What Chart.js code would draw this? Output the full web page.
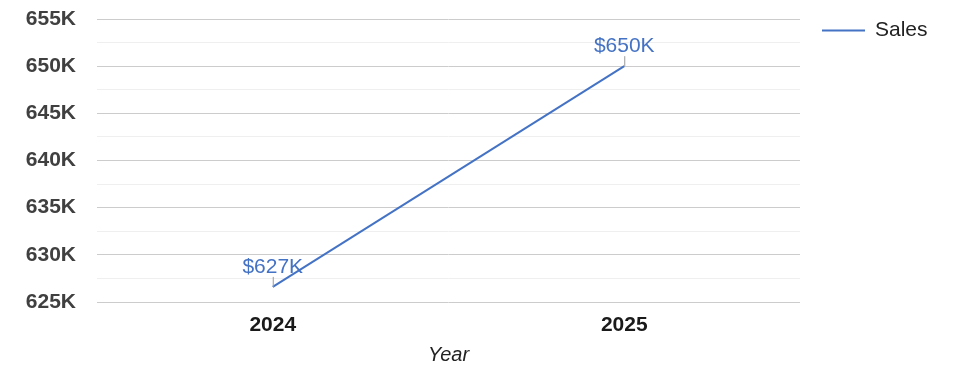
<!DOCTYPE html>
<html>
<head>
<meta charset="utf-8">
<script src="https://cdn.jsdelivr.net/npm/chart.js@4.4.1/dist/chart.umd.min.js"></script>
<style>
  html, body { margin: 0; padding: 0; background: #ffffff; }
  #wrap { width: 975px; height: 378px; position: relative; }
</style>
</head>
<body>
<div id="wrap"><canvas id="salesChart"></canvas></div>
<script>
// Chart data
const years = ['2024', '2025'];
const salesValues = [626600, 650000];
const seriesName = 'Sales';
const axisTitle = 'Year';

const lineColor = '#4472C4';
const FONT = '"Liberation Sans", Arial, sans-serif';

// Short label for the y ticks, e.g. 645K
function kLabel(v) {
    return Math.round(v / 1000) + 'K';
}

// Draws the "$627K" style labels with the small leader line above each point
const pointLabels = {
    id: 'pointLabels',
    afterDatasetsDraw(chart) {
        const ctx = chart.ctx;
        const meta = chart.getDatasetMeta(0);
        ctx.save();
        meta.data.forEach((pt, i) => {
            // leader line
            ctx.strokeStyle = '#9a9a9a';
            ctx.lineWidth = 1;
            ctx.beginPath();
            ctx.moveTo(pt.x + 0.5, pt.y);
            ctx.lineTo(pt.x + 0.5, pt.y - 10);
            ctx.stroke();
            // value text
            ctx.fillStyle = lineColor;
            ctx.font = '21px ' + FONT;
            ctx.textAlign = 'center';
            ctx.textBaseline = 'alphabetic';
            ctx.fillText('$' + kLabel(salesValues[i]), pt.x, pt.y - 14);
        });
        ctx.restore();
    }
};

// Simple legend on the right side of the plot
const sideLegend = {
    id: 'sideLegend',
    afterDraw(chart) {
        const ctx = chart.ctx;
        const area = chart.chartArea;
        const y = area.top + 11.5;
        ctx.save();
        ctx.strokeStyle = lineColor;
        ctx.lineWidth = 2;
        ctx.beginPath();
        ctx.moveTo(area.right + 22, y);
        ctx.lineTo(area.right + 65, y);
        ctx.stroke();
        ctx.fillStyle = '#222222';
        ctx.font = '21px ' + FONT;
        ctx.textAlign = 'left';
        ctx.textBaseline = 'middle';
        ctx.fillText(seriesName, area.right + 75, y);
        ctx.restore();
    }
};

const ctx = document.getElementById('salesChart');

new Chart(ctx, {
    type: 'line',
    data: {
        labels: years,
        datasets: [{
            label: seriesName,
            data: salesValues,
            borderColor: lineColor,
            backgroundColor: lineColor,
            borderWidth: 2,
            pointRadius: 0,
            tension: 0
        }]
    },
    options: {
        responsive: true,
        maintainAspectRatio: false,
        animation: false,
        layout: {
            padding: { top: 19, right: 175, bottom: 0, left: 0 }
        },
        plugins: {
            legend: { display: false },
            tooltip: { enabled: false }
        },
        scales: {
            x: {
                offset: true,
                grid: { display: false, drawTicks: false },
                border: { display: false },
                ticks: {
                    color: '#1a1a1a',
                    padding: 11,
                    font: { family: FONT, size: 21, weight: 'bold' }
                },
                title: {
                    display: true,
                    text: axisTitle,
                    color: '#222222',
                    padding: { top: 4, bottom: 11 },
                    font: { family: FONT, size: 20, style: 'italic' }
                },
                afterFit(scale) {
                    scale.height = 76;
                }
            },
            y: {
                min: 625000,
                max: 655000,
                grid: {
                    drawTicks: false,
                    // major lines every 5K, faint minor lines in between
                    color: c => (c.tick.value % 5000 === 0 ? '#cccccc' : '#efefef'),
                    lineWidth: 1
                },
                border: { display: false },
                ticks: {
                    stepSize: 2500,
                    autoSkip: false,
                    padding: 21,
                    color: '#404040',
                    font: { family: FONT, size: 21, weight: 'bold' },
                    callback: v => (v % 5000 === 0 ? kLabel(v) : '')
                },
                afterFit(scale) {
                    scale.width = 97;
                    // keep the tick padding from pushing the plot area down
                    scale.paddingTop = 0;
                    scale.paddingBottom = 0;
                }
            }
        }
    },
    plugins: [pointLabels, sideLegend]
});
</script>
</body>
</html>
